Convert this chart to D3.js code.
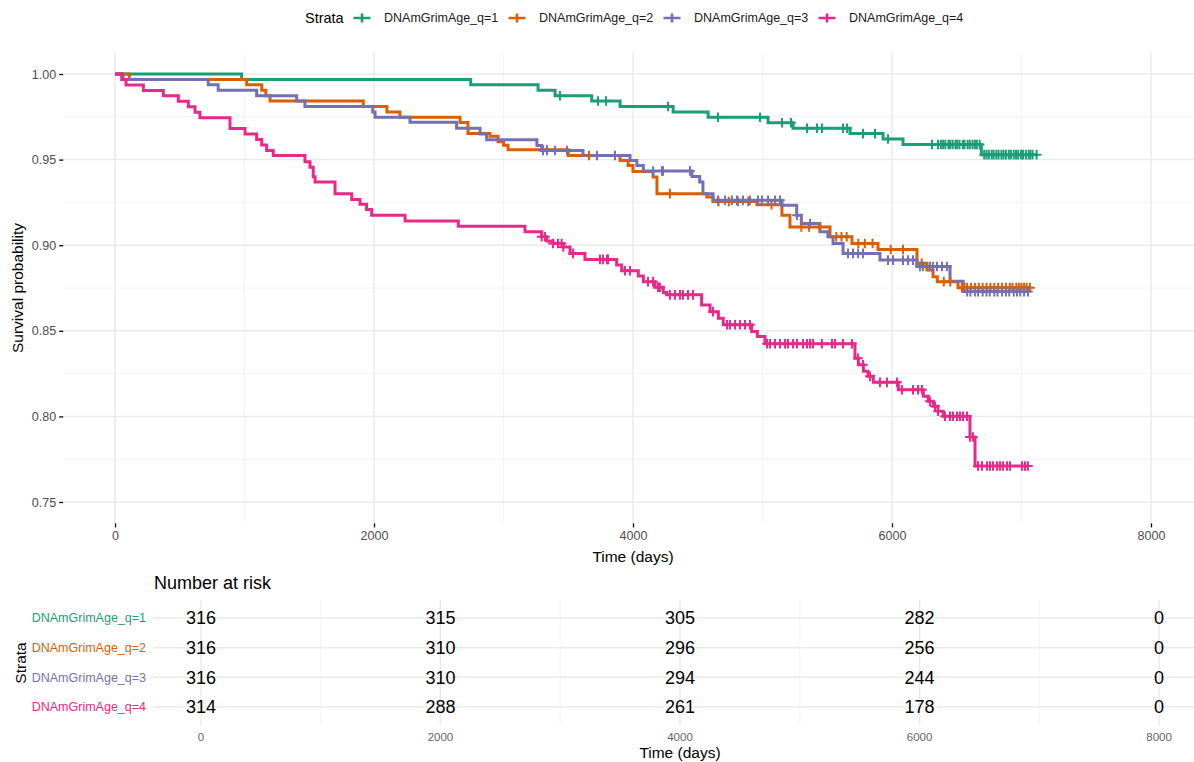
<!DOCTYPE html>
<html>
<head>
<meta charset="utf-8">
<script src="https://cdn.jsdelivr.net/npm/d3@7"></script>
<style>
  body { margin: 0; background: #fff; }
  svg { display: block; font-family: "Liberation Sans", Arial, Helvetica, sans-serif; }
</style>
</head>
<body>
<div id="chart"></div>
<script>
// strata + colours (Dark2)
var strata = ["DNAmGrimAge_q=1", "DNAmGrimAge_q=2", "DNAmGrimAge_q=3", "DNAmGrimAge_q=4"];
var colors = ["#1B9E77", "#D95F02", "#7570B3", "#E7298A"];

var xTicks = [0, 2000, 4000, 6000, 8000];
var xMinor = [1000, 3000, 5000, 7000];
var yTicks = [0.75, 0.80, 0.85, 0.90, 0.95, 1.00];
var yMinor = [0.775, 0.825, 0.875, 0.925, 0.975];

// KM steps: [time, survival after drop]
var stepsQ1 = [[0,1],[978,0.9968],[2747,0.9937],[3267,0.9905],[3398,0.9873],[3681,0.9842],[3900,0.9810],
  [4310,0.9778],[4580,0.9747],[5043,0.9715],[5236,0.9683],[5676,0.9652],[5931,0.9620],[6085,0.9588],[6690,0.9529]];
var stepsQ2 = [[0,1],[110,0.9968],[1017,0.9937],[1133,0.9905],[1165,0.9873],[1197,0.9842],[1917,0.9810],[2100,0.9778],
  [2200,0.9747],[2664,0.9716],[2726,0.9652],[2896,0.9636],[2958,0.9604],[3000,0.9584],[3035,0.9557],[3500,0.9524],
  [3900,0.9495],[3962,0.9466],[4000,0.9430],[4155,0.9398],[4185,0.9301],[4570,0.9282],[4618,0.9255],[4958,0.9237],
  [5150,0.9175],[5212,0.9107],[5521,0.9049],[5691,0.9010],[5892,0.8975],[6193,0.8894],[6270,0.8855],[6317,0.8816],
  [6350,0.8787],[6510,0.8752]];
var stepsQ3 = [[0,1],[62,0.9968],[720,0.9937],[797,0.9905],[1094,0.9873],[1403,0.9842],[1467,0.9810],[1990,0.9778],
  [2008,0.9747],[2278,0.9718],[2638,0.9683],[2819,0.9650],[2870,0.9616],[3258,0.9583],[3295,0.9553],[3614,0.9524],
  [3977,0.9495],[4030,0.9466],[4080,0.9433],[4455,0.9402],[4515,0.9369],[4540,0.9300],[4618,0.9262],[5150,0.9233],
  [5264,0.9175],[5300,0.9127],[5444,0.9078],[5505,0.9049],[5545,0.9010],[5622,0.8952],[5907,0.8913],[6193,0.8876],
  [6448,0.8790],[6550,0.8729]];
var stepsQ4 = [[0,1],[52,0.9968],[85,0.9936],[219,0.9904],[373,0.9873],[489,0.9841],[566,0.9809],[618,0.9777],
  [656,0.9745],[888,0.9681],[1004,0.9649],[1094,0.9617],[1133,0.9585],[1171,0.9553],[1222,0.9524],[1467,0.9488],
  [1506,0.9456],[1531,0.9400],[1545,0.9369],[1699,0.9300],[1828,0.9267],[1892,0.9239],[1943,0.9208],[1982,0.9175],
  [2240,0.9142],[2651,0.9111],[3166,0.9078],[3295,0.9049],[3334,0.9025],[3382,0.9010],[3462,0.8990],[3514,0.8952],
  [3629,0.8917],[3874,0.8884],[3913,0.8851],[4041,0.8820],[4080,0.8787],[4170,0.8754],[4234,0.8723],[4260,0.8710],
  [4530,0.8651],[4595,0.8612],[4659,0.8574],[4697,0.8535],[4916,0.8496],[4960,0.8466],[5019,0.8424],[5714,0.8340],
  [5740,0.8302],[5779,0.8263],[5815,0.8234],[5856,0.8199],[6049,0.8156],[6242,0.8117],[6280,0.8088],[6319,0.8059],
  [6355,0.8030],[6396,0.8001],[6602,0.7880],[6641,0.7710]];

// censoring times (the + marks)
var censorQ1 = [3436,3730,3792,4270,4656,4981,5151,5220,5344,5421,5459,5622,5653,5776,5869,5969,6309,6355,6378,6395,
  6412,6436,6449,6468,6490,6503,6521,6547,6560,6584,6601,6622,6640,6655,6677,6712,6730,6748,6770,6785,6806,6823,6845,
  6861,6880,6902,6918,6940,6958,6975,6997,7012,7034,7055,7068,7085,7117];
var censorQ2 = [3305,3336,3660,4285,4660,4740,4810,4890,5070,5300,5360,5440,5570,5610,5650,5740,5790,5850,5990,6085,
  6230,6400,6450,6540,6560,6580,6610,6640,6670,6700,6730,6760,6790,6820,6850,6880,6910,6930,6960,6980,7000,7020,7040,7066];
var censorQ3 = [3305,3336,3398,3490,3722,3861,4155,4224,4232,4440,4656,4710,4764,4803,4849,4903,4965,4996,5043,5097,
  5135,5266,5367,5660,5699,5738,5776,5969,6008,6085,6124,6162,6216,6239,6293,6316,6347,6386,6424,6580,6605,6640,6665,
  6700,6730,6755,6790,6815,6850,6880,6905,6940,6965,6990,7020,7050];
var censorQ4 = [3295,3320,3382,3421,3449,3462,3537,3745,3768,3799,3807,3938,3977,4116,4155,4193,4208,4285,4324,4363,
  4386,4425,4463,4618,4726,4749,4788,4826,4865,4903,5035,5058,5097,5135,5174,5197,5236,5266,5313,5344,5367,5390,5459,
  5537,5560,5622,5691,5738,5776,5830,5907,5961,6039,6077,6162,6201,6232,6293,6332,6355,6409,6448,6471,6502,6525,6548,
  6579,6602,6625,6664,6695,6734,6757,6780,6811,6834,6857,6888,6911,7004,7027,7050];

// number at risk table
var riskTimes = [0, 2000, 4000, 6000, 8000];
var riskQ1 = [316, 315, 305, 282, 0];
var riskQ2 = [316, 310, 296, 256, 0];
var riskQ3 = [316, 310, 294, 244, 0];
var riskQ4 = [314, 288, 261, 178, 0];

var allSteps = [stepsQ1, stepsQ2, stepsQ3, stepsQ4];
var allCensor = [censorQ1, censorQ2, censorQ3, censorQ4];
var allRisk = [riskQ1, riskQ2, riskQ3, riskQ4];

var W = 1194, H = 762;
var svg = d3.select("#chart").append("svg").attr("width", W).attr("height", H);
var gridMajor = "#EBEBEB", gridMinor = "#F3F3F3";

// ---------- survival panel ----------
var x = d3.scaleLinear().domain([-400, 8400]).range([63.2, 1202.8]);
var y = d3.scaleLinear().domain([0.7375, 1.0125]).range([523.4, 52.6]);
var pTop = y.range()[1], pBot = y.range()[0];

var grid = svg.append("g");
grid.selectAll(".ym").data(yMinor).join("line")
  .attr("x1", x.range()[0]).attr("x2", x.range()[1])
  .attr("y1", d => y(d)).attr("y2", d => y(d))
  .attr("stroke", gridMinor).attr("stroke-width", 0.9);
grid.selectAll(".xm").data(xMinor).join("line")
  .attr("x1", d => x(d)).attr("x2", d => x(d)).attr("y1", pTop).attr("y2", pBot)
  .attr("stroke", gridMinor).attr("stroke-width", 0.9);
grid.selectAll(".yM").data(yTicks).join("line")
  .attr("x1", x.range()[0]).attr("x2", x.range()[1])
  .attr("y1", d => y(d)).attr("y2", d => y(d))
  .attr("stroke", gridMajor).attr("stroke-width", 1.5);
grid.selectAll(".xM").data(xTicks).join("line")
  .attr("x1", d => x(d)).attr("x2", d => x(d)).attr("y1", pTop).attr("y2", pBot)
  .attr("stroke", gridMajor).attr("stroke-width", 1.5);

// axes
var yAxis = svg.append("g").attr("transform", "translate(" + x.range()[0] + ",0)")
  .call(d3.axisLeft(y).tickValues(yTicks).tickFormat(d3.format(".2f")).tickSize(4).tickPadding(3));
var xAxis = svg.append("g").attr("transform", "translate(0," + pBot + ")")
  .call(d3.axisBottom(x).tickValues(xTicks).tickFormat(d3.format("d")).tickSize(4).tickPadding(4));
[yAxis, xAxis].forEach(function(a) {
  a.select(".domain").remove();
  a.selectAll(".tick line").attr("stroke", "#000").attr("stroke-width", 1.3);
  a.selectAll(".tick text").attr("fill", "#4D4D4D").style("font-size", "12.5px")
    .style("font-family", '"Liberation Sans", Arial, sans-serif');
});

svg.append("text").attr("x", (x.range()[0] + x.range()[1]) / 2).attr("y", 562)
  .attr("text-anchor", "middle").style("font-size", "15.5px").attr("fill", "#000").text("Time (days)");
svg.append("text").attr("transform", "translate(23," + ((pTop + pBot) / 2) + ") rotate(-90)")
  .attr("text-anchor", "middle").style("font-size", "15.5px").attr("fill", "#000").text("Survival probability");

// curves
var line = d3.line().x(d => x(d[0])).y(d => y(d[1])).curve(d3.curveStepAfter);
var bis = d3.bisector(d => d[0]).right;
function survAt(steps, t) { return steps[bis(steps, t) - 1][1]; }

allSteps.forEach(function(steps, i) {
  var endT = d3.max(allCensor[i]);
  var pts = steps.concat([[endT, steps[steps.length - 1][1]]]);
  svg.append("path").datum(pts).attr("d", line)
    .attr("fill", "none").attr("stroke", colors[i]).attr("stroke-width", 3)
    .attr("stroke-linejoin", "miter");
});
var cs = 4.8;
allCensor.forEach(function(cens, i) {
  svg.append("g").selectAll("path").data(cens).join("path")
    .attr("d", function(t) {
      var cx = x(t), cy = y(survAt(allSteps[i], t));
      return "M" + (cx - cs) + "," + cy + "h" + (2 * cs) + "M" + cx + "," + (cy - cs) + "v" + (2 * cs);
    })
    .attr("stroke", colors[i]).attr("stroke-width", 2).attr("fill", "none");
});

// legend
var legY = 18;
svg.append("text").attr("x", 305).attr("y", legY).attr("dy", "0.35em")
  .style("font-size", "14.5px").text("Strata");
strata.forEach(function(s, i) {
  var tx = 384 + i * 155, cx = tx - 22;
  svg.append("path")
    .attr("d", "M" + (cx - 8.5) + "," + legY + "h17M" + cx + "," + (legY - 4.5) + "v9")
    .attr("stroke", colors[i]).attr("stroke-width", 2.6).attr("fill", "none");
  svg.append("text").attr("x", tx).attr("y", legY).attr("dy", "0.35em")
    .style("font-size", "12.5px").attr("fill", "#1a1a1a").text(s);
});

// ---------- risk table ----------
var xr = d3.scaleLinear().domain([-400, 8400]).range([153, 1207]);
var yr = d3.scalePoint().domain(strata).range([618, 707]);
var rTop = 600, rBot = 725;

var rg = svg.append("g");
rg.selectAll(".rxm").data(xMinor).join("line")
  .attr("x1", d => xr(d)).attr("x2", d => xr(d)).attr("y1", rTop).attr("y2", rBot)
  .attr("stroke", gridMinor).attr("stroke-width", 0.9);
rg.selectAll(".rxM").data(xTicks).join("line")
  .attr("x1", d => xr(d)).attr("x2", d => xr(d)).attr("y1", rTop).attr("y2", rBot)
  .attr("stroke", gridMajor).attr("stroke-width", 1.5);
rg.selectAll(".ry").data(strata).join("line")
  .attr("x1", xr.range()[0]).attr("x2", xr.range()[1])
  .attr("y1", d => yr(d)).attr("y2", d => yr(d))
  .attr("stroke", gridMajor).attr("stroke-width", 1.5);

svg.append("text").attr("x", 154).attr("y", 583).attr("dy", "0.35em")
  .style("font-size", "18px").text("Number at risk");

strata.forEach(function(s, i) {
  svg.append("text").attr("x", 146).attr("y", yr(s)).attr("dy", "0.35em")
    .attr("text-anchor", "end").style("font-size", "12.5px").attr("fill", colors[i]).text(s);
  svg.append("g").selectAll("text").data(allRisk[i]).join("text")
    .attr("x", (d, j) => xr(riskTimes[j])).attr("y", yr(s)).attr("dy", "0.36em")
    .attr("text-anchor", "middle").style("font-size", "18px").attr("fill", "#000")
    .text(d => d);
});

svg.append("g").selectAll("text").data(xTicks).join("text")
  .attr("x", d => xr(d)).attr("y", 737).attr("dy", "0.35em")
  .attr("text-anchor", "middle").style("font-size", "11.5px").attr("fill", "#666").text(d => d);

svg.append("text").attr("x", (xr.range()[0] + xr.range()[1]) / 2).attr("y", 753).attr("dy", "0.35em")
  .attr("text-anchor", "middle").style("font-size", "15.5px").text("Time (days)");
svg.append("text").attr("transform", "translate(26,663) rotate(-90)")
  .attr("text-anchor", "middle").style("font-size", "15.5px").text("Strata");
</script>
</body>
</html>
